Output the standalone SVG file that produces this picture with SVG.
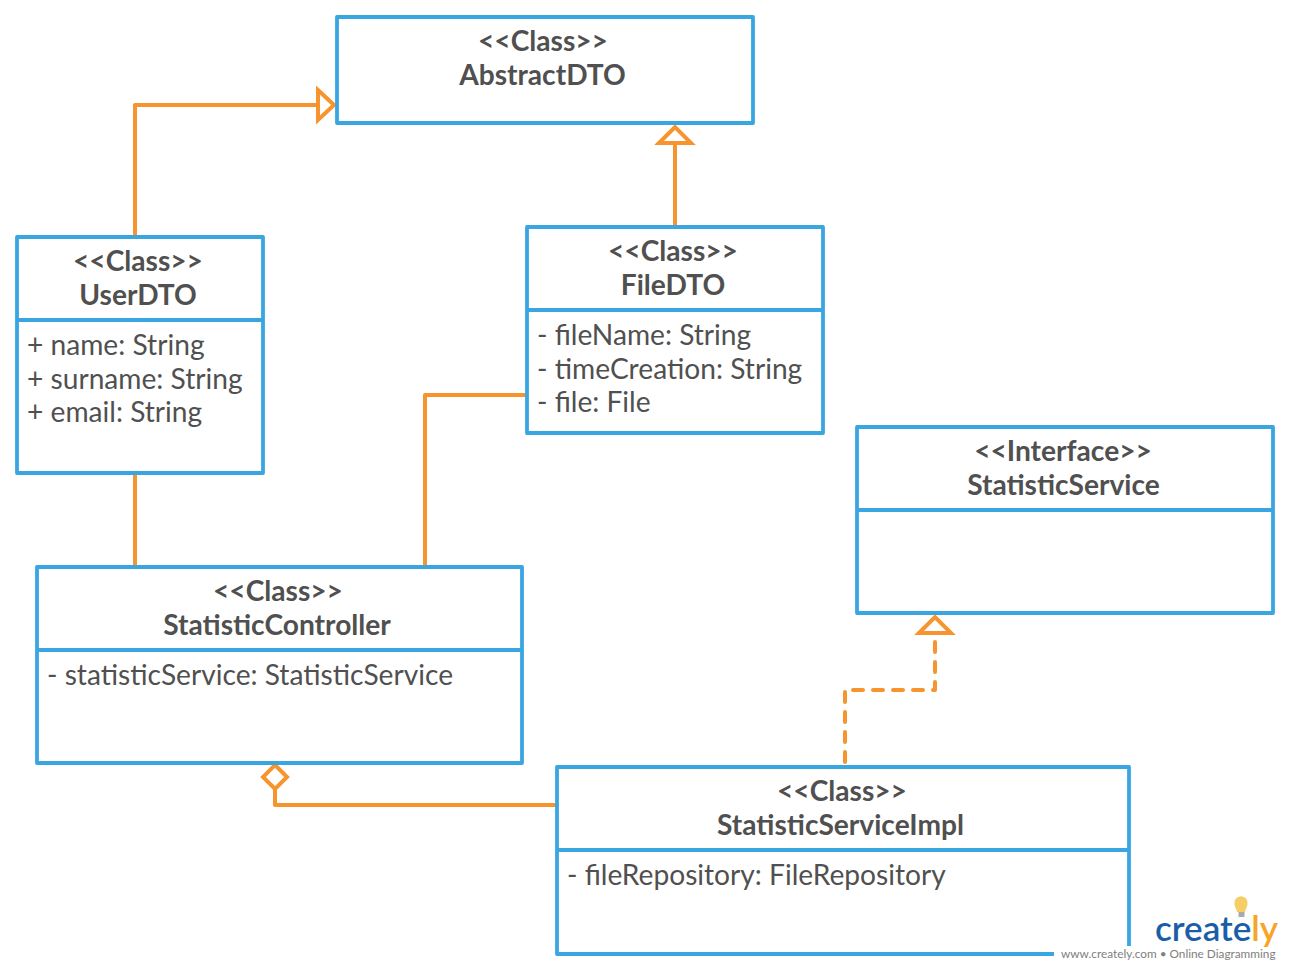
<svg xmlns="http://www.w3.org/2000/svg" width="1290" height="970" viewBox="0 0 1290 970">
<style>
.box{fill:#fff;stroke:#39a6e2;stroke-width:3.8;stroke-linejoin:round}
.div{stroke:#39a6e2;stroke-width:3.8;fill:none}
.c{fill:none;stroke:#f7942d;stroke-width:4;stroke-linejoin:round}
.h{fill:#fff;stroke:#f7942d;stroke-width:4;stroke-linejoin:miter}
.d{stroke-dasharray:10 10;stroke-linecap:round}
text{font-family:Lato,"Liberation Sans",sans-serif;fill:#505050;font-size:28.150px}
.t{text-anchor:middle;font-weight:700}
</style>
<g id="connectors">
<path class="c" d="M135 237V105H318"/>
<path class="h" d="M318 90L334 105L318 120Z"/>
<path class="c" d="M675 227V143"/>
<path class="h" d="M659 143L675 127L691 143Z"/>
<path class="c" d="M135 473V567"/>
<path class="c" d="M425 567V395H527"/>
<path class="c d" d="M845 762V690H935V636"/>
<path class="h" d="M919 633L935 617L951 633Z"/>
<path class="c" d="M275 790V805H556"/>
<path class="h" d="M275 765L287 777L275 789L263 777Z"/>
</g>
<g id="AbstractDTO">
<rect class="box" x="337" y="17" width="416" height="106"/>
<text class="t" x="543" y="51">&lt;&lt;Class&gt;&gt;</text>
<text class="t" x="542.500" y="85">AbstractDTO</text>
</g>
<g id="UserDTO">
<rect class="box" x="17" y="237" width="246" height="236"/>
<path class="div" d="M17 320H263"/>
<text class="t" x="138" y="271">&lt;&lt;Class&gt;&gt;</text>
<text class="t" x="138" y="305">UserDTO</text>
<text x="27" y="354.500">+ name: String</text>
<text x="27" y="388.500">+ surname: String</text>
<text x="27" y="421.500">+ email: String</text>
</g>
<g id="FileDTO">
<rect class="box" x="527" y="227" width="296" height="206"/>
<path class="div" d="M527 310H823"/>
<text class="t" x="673" y="261">&lt;&lt;Class&gt;&gt;</text>
<text class="t" x="673" y="295">FileDTO</text>
<text x="537" y="344.500">- fileName: String</text>
<text x="537" y="378.500">- timeCreation: String</text>
<text x="537" y="411.500">- file: File</text>
</g>
<g id="StatisticService">
<rect class="box" x="857" y="427" width="416" height="186"/>
<path class="div" d="M857 510H1273"/>
<text class="t" x="1063" y="461">&lt;&lt;Interface&gt;&gt;</text>
<text class="t" x="1063.500" y="495">StatisticService</text>
</g>
<g id="StatisticController">
<rect class="box" x="37" y="567" width="485" height="196"/>
<path class="div" d="M37 650H522"/>
<text class="t" x="278" y="601">&lt;&lt;Class&gt;&gt;</text>
<text class="t" x="277" y="635">StatisticController</text>
<text x="47" y="684.500">- statisticService: StatisticService</text>
</g>
<g id="StatisticServiceImpl">
<rect class="box" x="557" y="767" width="572" height="187"/>
<path class="div" d="M557 850H1129"/>
<text class="t" x="842" y="801">&lt;&lt;Class&gt;&gt;</text>
<text class="t" x="840.500" y="835">StatisticServiceImpl</text>
<text x="567" y="884.500">- fileRepository: FileRepository</text>
</g>
<g id="creately-logo">
<rect x="1054" y="946" width="236" height="24" fill="#fff"/>
<path d="M1237 912c-1-4-2-5-2.500-7.500a6.700 6.700 0 1 1 13 0c-.5 2.500-1.500 3.500-2.500 7.500z" fill="#f5cf66"/>
<rect x="1238.500" y="912" width="6" height="5" fill="#aaa"/>
<text x="1155" y="941" style="font-size:35px;font-weight:600;fill:#1b5ea8">create<tspan style="fill:#f7a428">ly</tspan></text>
<text x="1061" y="958" style="font-size:11.800px;fill:#808080">www.creately.com • Online Diagramming</text>
</g>
</svg>
